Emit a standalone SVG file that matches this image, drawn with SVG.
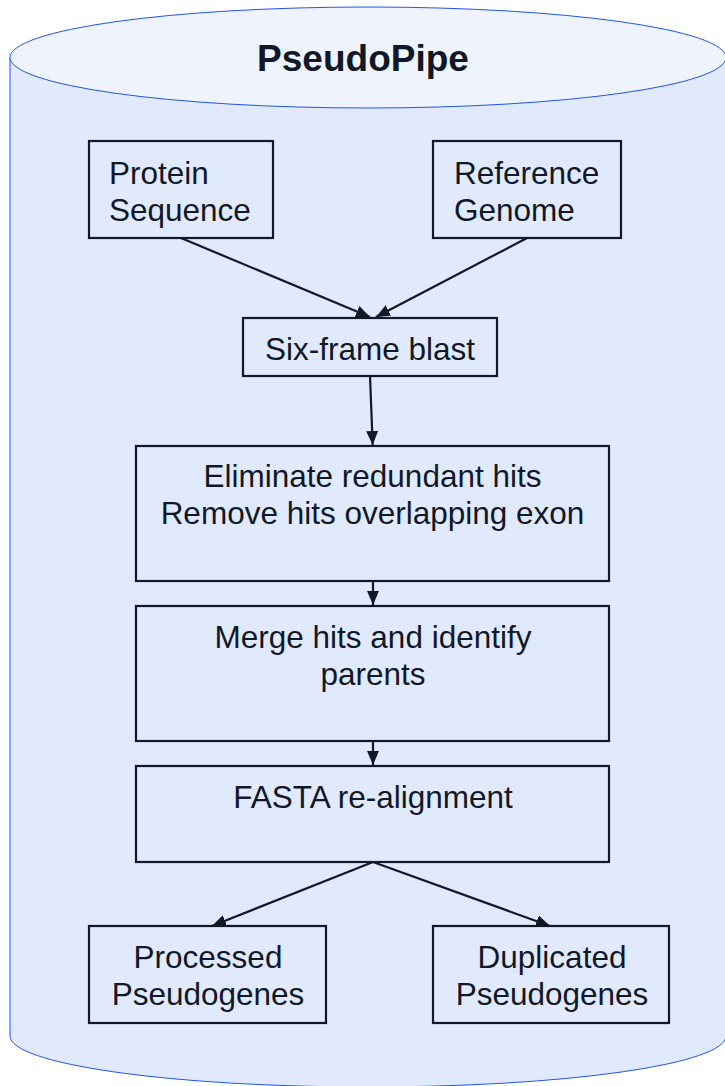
<svg xmlns="http://www.w3.org/2000/svg" width="725" height="1086" viewBox="0 0 725 1086">
<style>
.box{fill:#e1eafd;stroke:#111827;stroke-width:2.2}
.t{font-family:"Liberation Sans",Arial,sans-serif;font-size:31.5px;fill:#111827}
.c{text-anchor:middle}
.edge{fill:none;stroke:#111827;stroke-width:2.2}
</style>
<defs>
<marker id="ah" markerUnits="userSpaceOnUse" markerWidth="15" markerHeight="13" refX="14" refY="6.5" orient="auto">
<path d="M0,0.5 L14,6.5 L0,12.5 z" fill="#111827"/>
</marker>
</defs>
<g id="cylinder">
<path d="M10,57.5 L10,1036 A358,51 0 0 0 726,1036 L726,57.5 Z" fill="#e1eafd" stroke="#2255ee" stroke-width="1"/>
<ellipse cx="368" cy="57.5" rx="358" ry="50.5" fill="#eef3fe" stroke="#2255ee" stroke-width="1"/>
<text x="363" y="71" class="t c" style="font-weight:bold;font-size:37px">PseudoPipe</text>
</g>
<g id="edges">
<line x1="181" y1="238" x2="370" y2="317" class="edge" marker-end="url(#ah)"/>
<line x1="527" y1="238" x2="376" y2="317" class="edge" marker-end="url(#ah)"/>
<line x1="370" y1="376" x2="372.7" y2="445" class="edge" marker-end="url(#ah)"/>
<line x1="373" y1="581" x2="373" y2="605" class="edge" marker-end="url(#ah)"/>
<line x1="373" y1="741" x2="373" y2="765" class="edge" marker-end="url(#ah)"/>
<line x1="373" y1="862" x2="212" y2="926" class="edge" marker-end="url(#ah)"/>
<line x1="373" y1="862" x2="550" y2="926" class="edge" marker-end="url(#ah)"/>
</g>
<g id="protein">
<rect x="89" y="141" width="184" height="97" class="box"/>
<text class="t" x="109" y="184">Protein</text>
<text class="t" x="109" y="221">Sequence</text>
</g>
<g id="reference">
<rect x="433" y="141" width="188" height="97" class="box"/>
<text class="t" x="454" y="184">Reference</text>
<text class="t" x="454" y="221">Genome</text>
</g>
<g id="sixframe">
<rect x="243" y="318" width="254" height="58" class="box"/>
<text class="t c" x="370" y="360">Six-frame blast</text>
</g>
<g id="eliminate">
<rect x="136" y="446" width="473" height="135" class="box"/>
<text class="t c" x="372.5" y="487">Eliminate redundant hits</text>
<text class="t c" x="372.5" y="524">Remove hits overlapping exon</text>
</g>
<g id="merge">
<rect x="136" y="606" width="473" height="135" class="box"/>
<text class="t c" x="373" y="648">Merge hits and identify</text>
<text class="t c" x="373" y="685">parents</text>
</g>
<g id="fasta">
<rect x="136" y="766" width="473" height="96" class="box"/>
<text class="t c" x="373" y="808">FASTA re-alignment</text>
</g>
<g id="processed">
<rect x="89" y="926" width="237" height="97" class="box"/>
<text class="t c" x="208" y="968">Processed</text>
<text class="t c" x="208" y="1005">Pseudogenes</text>
</g>
<g id="duplicated">
<rect x="433" y="926" width="236" height="97" class="box"/>
<text class="t c" x="552" y="968">Duplicated</text>
<text class="t c" x="552" y="1005">Pseudogenes</text>
</g>
</svg>
